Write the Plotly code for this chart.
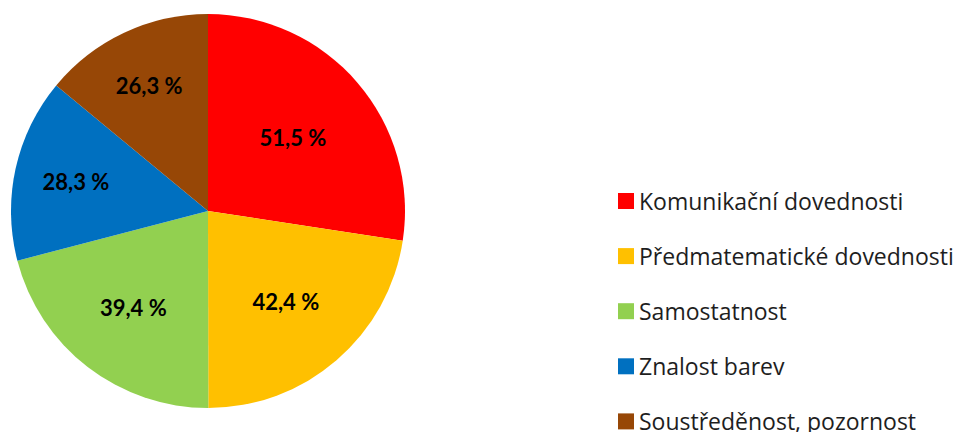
import plotly.graph_objects as go

categories = ["Komunikační dovednosti", "Předmatematické dovednosti", "Samostatnost",
              "Znalost barev", "Soustředěnost, pozornost"]
values = [51.5, 42.4, 39.4, 28.3, 26.3]
colors = ["#FF0000", "#FFC000", "#92D050", "#0070C0", "#974706"]

# page body has an 8px margin; figure fills the rest of the window
OFF = 8
W, H = 961 - OFF, 432 - OFF
cx, cy, r = 208 - OFF, 211 - OFF, 197

fig = go.Figure(go.Pie(
    labels=categories,
    values=values,
    sort=False,
    direction="clockwise",
    rotation=0,
    marker=dict(colors=colors, line=dict(width=0)),
    texttemplate="%{value:.1f} %",
    textposition="inside",
    insidetextorientation="horizontal",
    textfont=dict(family="Lato", size=22, color="#000000", weight="bold"),
    showlegend=False,
    domain=dict(x=[(cx - r) / W, (cx + r) / W], y=[(H - cy - r) / H, (H - cy + r) / H]),
    hoverinfo="label+value",
))

# legend drawn from the category/colour arrays
shapes, annotations = [], []
leg_x0, leg_sq, leg_y0, leg_dy = 618 - OFF, 16, 201 - OFF, 55.1
for i, (lab, col) in enumerate(zip(categories, colors)):
    yc = leg_y0 + i * leg_dy
    shapes.append(dict(type="rect", xref="paper", yref="paper",
                       x0=leg_x0 / W, x1=(leg_x0 + leg_sq) / W,
                       y0=(H - yc - leg_sq / 2) / H, y1=(H - yc + leg_sq / 2) / H,
                       fillcolor=col, line=dict(width=0)))
    annotations.append(dict(xref="paper", yref="paper", x=(leg_x0 + leg_sq + 3) / W,
                            y=(H - yc) / H, xanchor="left", yanchor="middle",
                            text=lab, showarrow=False,
                            font=dict(family="Open Sans", size=23, color="#1e1e1e")))

fig.update_layout(
    width=W, height=H,
    margin=dict(l=0, r=0, t=0, b=0),
    paper_bgcolor="white",
    plot_bgcolor="white",
    separators=", ",
    shapes=shapes,
    annotations=annotations,
)

fig.write_html("out.html")
